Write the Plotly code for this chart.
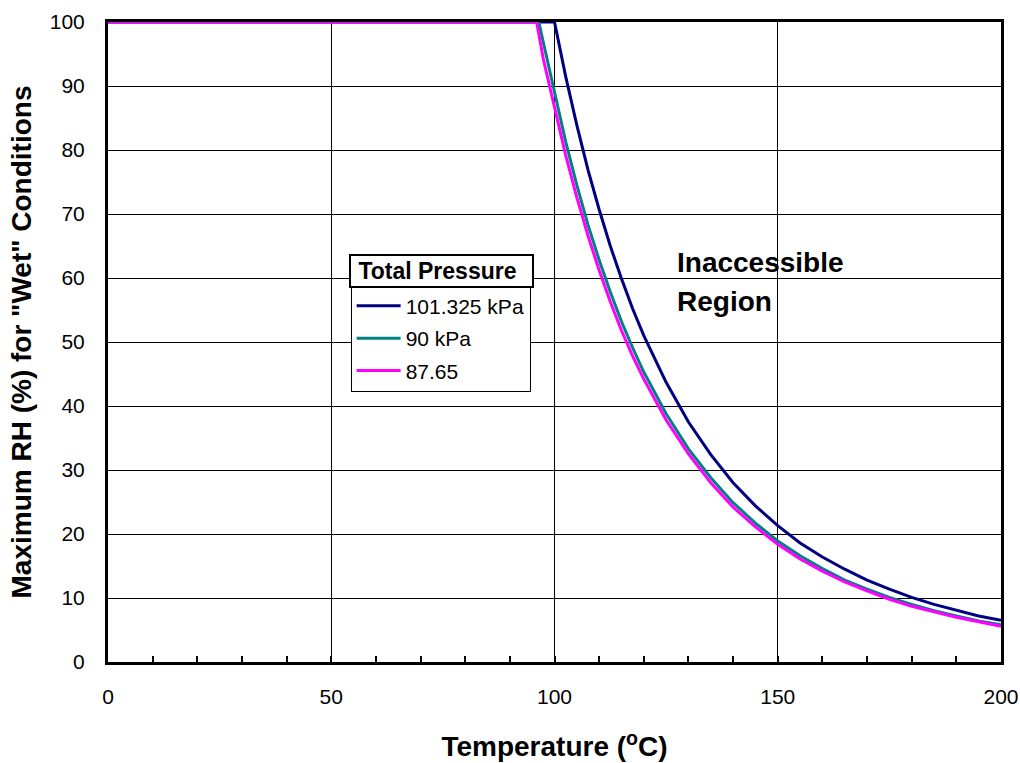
import plotly.graph_objects as go

# Temperatures (deg C)
temp_101 = [0, 100, 102.5, 105, 107.5, 110, 112.5, 115, 117.5, 120, 125, 130, 135, 140, 145, 150,
            155, 160, 165, 170, 175, 180, 185, 190, 195, 200]
rh_101 = [100, 100, 91.5, 83.9, 76.9, 70.7, 65.0, 59.9, 55.2, 51.0, 43.7, 37.5, 32.4, 28.0, 24.4, 21.3,
          18.6, 16.4, 14.5, 12.8, 11.4, 10.1, 9.0, 8.1, 7.2, 6.5]

temp_90 = [0, 96.5, 97.5, 100, 102.5, 105, 107.5, 110, 112.5, 115, 117.5, 120, 125, 130, 135, 140, 145,
           150, 155, 160, 165, 170, 175, 180, 185, 190, 195, 200]
rh_90 = [100, 100, 96.8, 88.8, 81.3, 74.5, 68.3, 62.8, 57.8, 53.2, 49.1, 45.3, 38.8, 33.3, 28.8, 24.9, 21.7,
         18.9, 16.6, 14.6, 12.8, 11.4, 10.1, 9.0, 8.0, 7.2, 6.4, 5.8]

temp_8765 = [0, 96.0, 97.5, 100, 102.5, 105, 107.5, 110, 112.5, 115, 117.5, 120, 125, 130, 135, 140, 145,
             150, 155, 160, 165, 170, 175, 180, 185, 190, 195, 200]
rh_8765 = [100, 100, 94.2, 86.5, 79.2, 72.6, 66.6, 61.2, 56.3, 51.8, 47.8, 44.2, 37.8, 32.5, 28.0, 24.2, 21.1,
           18.4, 16.1, 14.2, 12.5, 11.1, 9.8, 8.7, 7.8, 7.0, 6.3, 5.6]

series_names = ["101.325 kPa", "90 kPa", "87.65"]
series_colors = ["#000080", "#008080", "#FF00FF"]

x_ticks = [0, 50, 100, 150, 200]
y_ticks = [0, 10, 20, 30, 40, 50, 60, 70, 80, 90, 100]

FONT = "Liberation Sans, Arial, sans-serif"

fig = go.Figure()
for i, (name, xs, ys, c) in enumerate(zip(series_names, [temp_101, temp_90, temp_8765],
                                          [rh_101, rh_90, rh_8765], series_colors)):
    fig.add_trace(go.Scatter(x=xs, y=ys, mode="lines", name=name, legendgroup=f"g{i}",
                             line=dict(color=c, width=3)))

fig.update_layout(
    width=1020, height=763,
    margin=dict(l=108, r=19, t=22, b=101),
    paper_bgcolor="white", plot_bgcolor="white",
    font=dict(family=FONT, color="black", size=21),
    showlegend=True,
    legend=dict(x=0.2717, y=0.5895, xanchor="left", yanchor="top",
                bgcolor="white", bordercolor="black", borderwidth=1,
                font=dict(size=21, family=FONT), traceorder="grouped", tracegroupgap=2,
                itemwidth=44),
    annotations=[
        dict(text="<b>&nbsp;Total Pressure</b>", xref="paper", yref="paper",
             x=0.3731, y=0.6114, xanchor="center", yanchor="middle",
             showarrow=False, width=179, height=28, align="left",
             bordercolor="black", borderwidth=2, bgcolor="white",
             font=dict(size=23, family=FONT)),
        dict(text="<b>Inaccessible</b>", xref="paper", yref="paper",
             x=0.635, y=0.624, xanchor="left", yanchor="middle",
             showarrow=False, font=dict(size=28, family=FONT)),
        dict(text="<b>Region</b>", xref="paper", yref="paper",
             x=0.635, y=0.563, xanchor="left", yanchor="middle",
             showarrow=False, font=dict(size=28, family=FONT)),
    ],
)

fig.update_xaxes(
    range=[0, 200], tickvals=x_ticks, ticktext=[str(v) for v in x_ticks],
    showgrid=True, gridcolor="black", gridwidth=1,
    showline=True, linecolor="black", linewidth=3, mirror=True,
    ticks="inside", ticklen=6, tickcolor="black", tickwidth=1.5,
    minor=dict(dtick=10, ticks="inside", ticklen=6, tickcolor="black", tickwidth=1.5, showgrid=False),
    zeroline=False, ticklabelstandoff=14, automargin=False,
    title=dict(text="<b>Temperature (<sup>o</sup>C)</b>", font=dict(size=28, family=FONT), standoff=30),
    tickfont=dict(size=21, family=FONT),
)
fig.update_yaxes(
    range=[0, 100], tickvals=y_ticks, ticktext=[str(v) for v in y_ticks],
    showgrid=True, gridcolor="black", gridwidth=1,
    showline=True, linecolor="black", linewidth=3, mirror=True,
    ticks="", zeroline=False, ticklabelstandoff=16, automargin=False,
    title=dict(text='<b>Maximum RH (%) for "Wet" Conditions</b>', font=dict(size=28, family=FONT), standoff=10),
    tickfont=dict(size=21, family=FONT),
)

fig.write_html("out.html")
